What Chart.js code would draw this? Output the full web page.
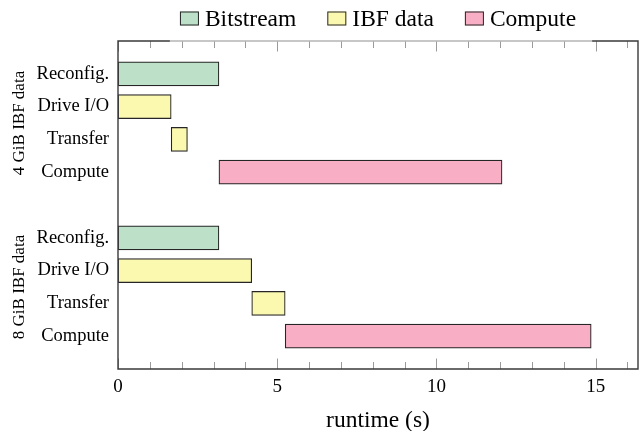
<!DOCTYPE html>
<html><head><meta charset="utf-8">
<script src="https://cdn.jsdelivr.net/npm/chart.js@4/dist/chart.umd.min.js"></script>
<style>html,body{margin:0;padding:0;background:#fff;} #wrap{width:641px;height:431px;}</style>
</head><body><div id="wrap"><canvas id="c" width="641" height="431"></canvas></div>
<script>
// ---- data ----
const groupLabels = ['4 GiB IBF data', '8 GiB IBF data'];
const stageLabels = ['Reconfig.', 'Drive I/O', 'Transfer', 'Compute'];
const seriesLabels = ['Bitstream', 'IBF data', 'Compute'];
const stageSeries = [0, 1, 1, 2];          // which legend series each stage belongs to
const start4GiB = [0, 0, 1.67, 3.17];
const end4GiB   = [3.17, 1.67, 2.18, 12.06];
const start8GiB = [0, 0, 4.20, 5.25];
const end8GiB   = [3.17, 4.20, 5.25, 14.86];
const xTickValues = [0, 5, 10, 15];
const xMax = 16.33;
const axisTitle = 'runtime (s)';

// ---- styles ----
const seriesColors = ['#bde0c8', '#fbf8b0', '#f8afc6'];
const FONT = "'Liberation Serif', 'Times New Roman', serif";

const starts = [start4GiB, start8GiB];
const ends = [end4GiB, end8GiB];
const slot = stageLabels.length + 1;
const rowOf = (g, i) => g * slot + i + 1;
const rowValues = [];
const rowNames = {};
groupLabels.forEach((_, g) => stageLabels.forEach((s, i) => { rowValues.push(rowOf(g, i)); rowNames[rowOf(g, i)] = s; }));

const datasets = seriesLabels.map((name, k) => {
  const data = [];
  groupLabels.forEach((_, g) => stageLabels.forEach((_, i) => {
    if (stageSeries[i] === k) data.push({ x: [starts[g][i], ends[g][i]], y: rowOf(g, i) });
  }));
  return {
    label: name, data,
    backgroundColor: seriesColors[k], borderColor: '#262626', borderWidth: 1.2,
    borderSkipped: false, barThickness: 24, grouped: false
  };
});

const decor = {
  id: 'decor',
  afterDatasetsDraw(chart) {
    const ctx = chart.ctx, a = chart.chartArea, xs = chart.scales.x, ys = chart.scales.y;
    ctx.save();
    // tick marks (bottom and top, inside)
    ctx.strokeStyle = '#9a9a9a'; ctx.lineWidth = 1;
    for (let v = 0; v <= Math.floor(xMax); v++) {
      const px = Math.round(xs.getPixelForValue(v)) + 0.5;
      const len = (v % 5 === 0) ? 10.5 : 7;
      ctx.beginPath();
      ctx.moveTo(px, a.bottom); ctx.lineTo(px, a.bottom - len);
      ctx.moveTo(px, a.top); ctx.lineTo(px, a.top + len);
      ctx.stroke();
    }
    // legend geometry
    ctx.font = "23.5px " + FONT;
    const boxW = 19, boxH = 14, gap = 6, itemGap = 31;
    const widths = seriesLabels.map(t => ctx.measureText(t).width);
    const total = widths.reduce((s, w) => s + boxW + gap + w, 0) + itemGap * (seriesLabels.length - 1);
    const cx = (a.left + a.right) / 2;
    const lx0 = cx - total / 2 - 10, lx1 = cx + total / 2 + 16;
    // frame
    ctx.lineWidth = 1.4; ctx.strokeStyle = '#3a3a3a';
    ctx.beginPath();
    ctx.moveTo(lx0, a.top); ctx.lineTo(a.left, a.top); ctx.lineTo(a.left, a.bottom);
    ctx.lineTo(a.right, a.bottom); ctx.lineTo(a.right, a.top); ctx.lineTo(lx1, a.top);
    ctx.stroke();
    ctx.strokeStyle = '#b4b4b4';
    ctx.beginPath(); ctx.moveTo(lx0, a.top); ctx.lineTo(lx1, a.top); ctx.stroke();
    // legend items
    let x = cx - total / 2;
    const cy = 18.5;
    ctx.textBaseline = 'middle'; ctx.textAlign = 'left';
    seriesLabels.forEach((t, k) => {
      ctx.fillStyle = seriesColors[k];
      ctx.fillRect(x, cy - boxH / 2, boxW, boxH);
      ctx.strokeStyle = '#262626'; ctx.lineWidth = 1;
      ctx.strokeRect(x + 0.5, cy - boxH / 2 + 0.5, boxW - 1, boxH - 1);
      ctx.fillStyle = '#000';
      ctx.fillText(t, x + boxW + gap, cy + 1);
      x += boxW + gap + widths[k] + itemGap;
    });
    // group labels
    ctx.font = "17px " + FONT;
    ctx.textAlign = 'center';
    groupLabels.forEach((t, g) => {
      const y0 = ys.getPixelForValue(rowOf(g, 0)), y1 = ys.getPixelForValue(rowOf(g, stageLabels.length - 1));
      ctx.save();
      ctx.translate(20, (y0 + y1) / 2);
      ctx.rotate(-Math.PI / 2);
      ctx.fillText(t, 0, 0);
      ctx.restore();
    });
    ctx.restore();
  }
};

new Chart(document.getElementById('c'), {
  type: 'bar',
  data: { datasets },
  plugins: [decor],
  options: {
    indexAxis: 'y',
    responsive: false, animation: false, devicePixelRatio: 1,
    layout: { padding: { left: 0, right: 3, top: 41, bottom: 0 } },
    plugins: { legend: { display: false }, tooltip: { enabled: false } },
    scales: {
      x: {
        type: 'linear', min: 0, max: xMax, offset: false,
        afterBuildTicks: s => { s.ticks = xTickValues.map(v => ({ value: v })); },
        afterFit: s => { s.height = 62; },
        grid: { display: false, drawTicks: false },
        border: { display: false },
        ticks: { font: { family: FONT, size: 19 }, color: '#000', padding: 6.5, maxRotation: 0 },
        title: { display: true, text: axisTitle, color: '#000', font: { family: FONT, size: 23.5, lineHeight: 1 }, padding: { top: 0, bottom: -2 } }
      },
      y: {
        type: 'linear', reverse: true, min: 0, max: groupLabels.length * slot, offset: false,
        afterBuildTicks: s => { s.ticks = rowValues.map(v => ({ value: v })); },
        afterFit: s => { s.width = 118; },
        grid: { display: false, drawTicks: false },
        border: { display: false },
        ticks: { font: { family: FONT, size: 18.5 }, color: '#000', padding: 9, callback: v => rowNames[v] || '' }
      }
    }
  }
});
</script></body></html>
